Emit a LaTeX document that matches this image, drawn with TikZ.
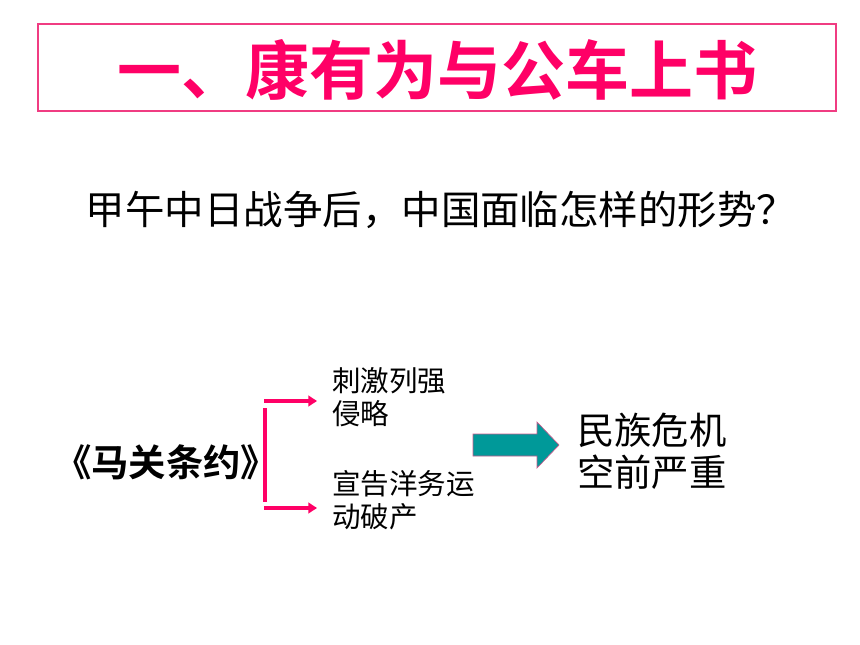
\documentclass[tikz,border=0pt]{standalone}
\usepackage{fontspec}
\newfontfamily\cjk{Noto Sans CJK SC}[BoldFont={Noto Sans CJK SC Bold}]
\usetikzlibrary{arrows.meta}
\definecolor{hotpink}{RGB}{255,0,102}
\definecolor{boxpink}{RGB}{240,60,130}
\definecolor{tealc}{RGB}{0,153,153}
\definecolor{tealedge}{RGB}{200,90,140}
\tikzset{
  txt/.style={inner sep=0pt, outer sep=0pt, font=\cjk},
  brk/.style={draw=hotpink, line width=2.8pt},
  brkarrow/.style={brk, -{Triangle[length=6.5pt,width=8pt]}},
}
\begin{document}
\begin{tikzpicture}[x=0.75pt,y=-0.75pt]
\useasboundingbox (0,0) rectangle (860,645);
% title
\draw[boxpink, line width=0.8pt] (38,24) rectangle (836,111);
\node[txt, text=hotpink, font=\cjk\bfseries\fontsize{48}{50}\selectfont] (title) at (437,70) {一、康有为与公车上书};
% question
\node[txt, font=\cjk\fontsize{29.6}{32}\selectfont] (question) at (441,210) {甲午中日战争后，中国面临怎样的形势？};
% treaty
\node[txt, font=\cjk\bfseries\fontsize{28}{30}\selectfont] (treaty) at (166,462) {《马关条约》};
% labels
\node[txt, anchor=west, align=left, font=\cjk\fontsize{21.4}{24.8}\selectfont] (lab1) at (332,397) {刺激列强\\侵略};
\node[txt, anchor=west, align=left, font=\cjk\fontsize{21.4}{24.8}\selectfont] (lab2) at (332,500) {宣告洋务运\\动破产};
% result
\node[txt, anchor=west, align=left, font=\cjk\fontsize{28}{31.5}\selectfont] (result) at (577,451) {民族危机\\空前严重};
% bracket
\coordinate (vt) at (265,408);
\coordinate (vb) at (265,502);
\coordinate (ht) at (264,401);
\coordinate (hb) at (264,508);
\coordinate (at) at (317,401);
\coordinate (ab) at (317,508);
\draw[brk] (vt) -- (vb);
\draw[brkarrow] (ht) -- (at);
\draw[brkarrow] (hb) -- (ab);
% teal arrow
\draw[fill=tealc, draw=tealedge, line width=0.5pt]
  (473,434) -- (537,434) -- (537,422) -- (559,445) -- (537,468) -- (537,456) -- (473,456) -- cycle;
\end{tikzpicture}
\end{document}
